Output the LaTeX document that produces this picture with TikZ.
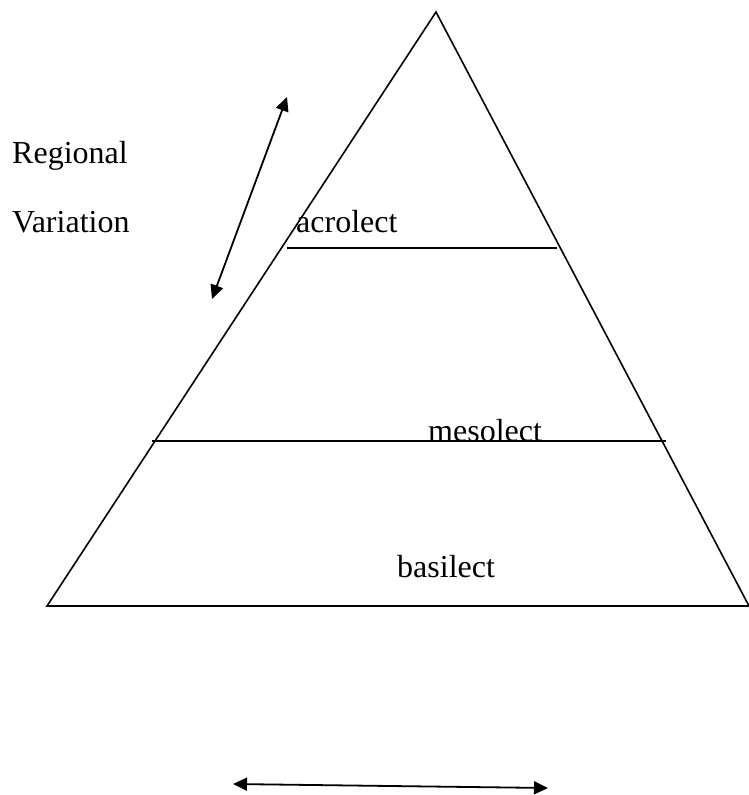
\documentclass[tikz,border=0pt]{standalone}
\usepackage{fontspec}
\setmainfont{Liberation Serif}
\usetikzlibrary{arrows.meta,positioning}

\begin{document}
\begin{tikzpicture}[x=1pt,y=-1pt,
    edge/.style={line width=1.6pt},
    tag/.style={anchor=base west, inner sep=0pt, font=\fontsize{32}{38}\selectfont},
    span/.style={line width=1.8pt, {Triangle[length=14pt,width=13pt]}-{Triangle[length=14pt,width=13pt]}}]
    \useasboundingbox (0,0) rectangle (749,795);

    % Pyramid
    \coordinate (apex) at (436,12);
    \coordinate (baseL) at (47,606);
    \coordinate (baseR) at (749,606);
    \draw[edge] (baseL) -- (apex) -- (baseR) -- cycle;

    % Layer lines
    \coordinate (acroL) at (287,248);
    \coordinate (acroR) at (557,248);
    \coordinate (mesoL) at (152,441);
    \coordinate (mesoR) at (666,441);
    \draw[edge] (acroL) -- (acroR);
    \draw[edge] (mesoL) -- (mesoR);

    % Layer labels
    \node[tag] (acro) at (296,232) {acrolect};
    \node[tag] (meso) at (428,441) {mesolect};
    \node[tag] (basi) at (397,577) {basilect};

    % Regional variation
    \node[tag] (reg) at (12,163) {Regional};
    \node[tag] (var) at (12,232) {Variation};
    \coordinate (regTop) at (287,97);
    \coordinate (regBot) at (212,299);
    \draw[span] (regBot) -- (regTop);

    % Bottom arrow
    \coordinate (botL) at (233,784);
    \coordinate (botR) at (548,788);
    \draw[span] (botL) -- (botR);
\end{tikzpicture}
\end{document}
